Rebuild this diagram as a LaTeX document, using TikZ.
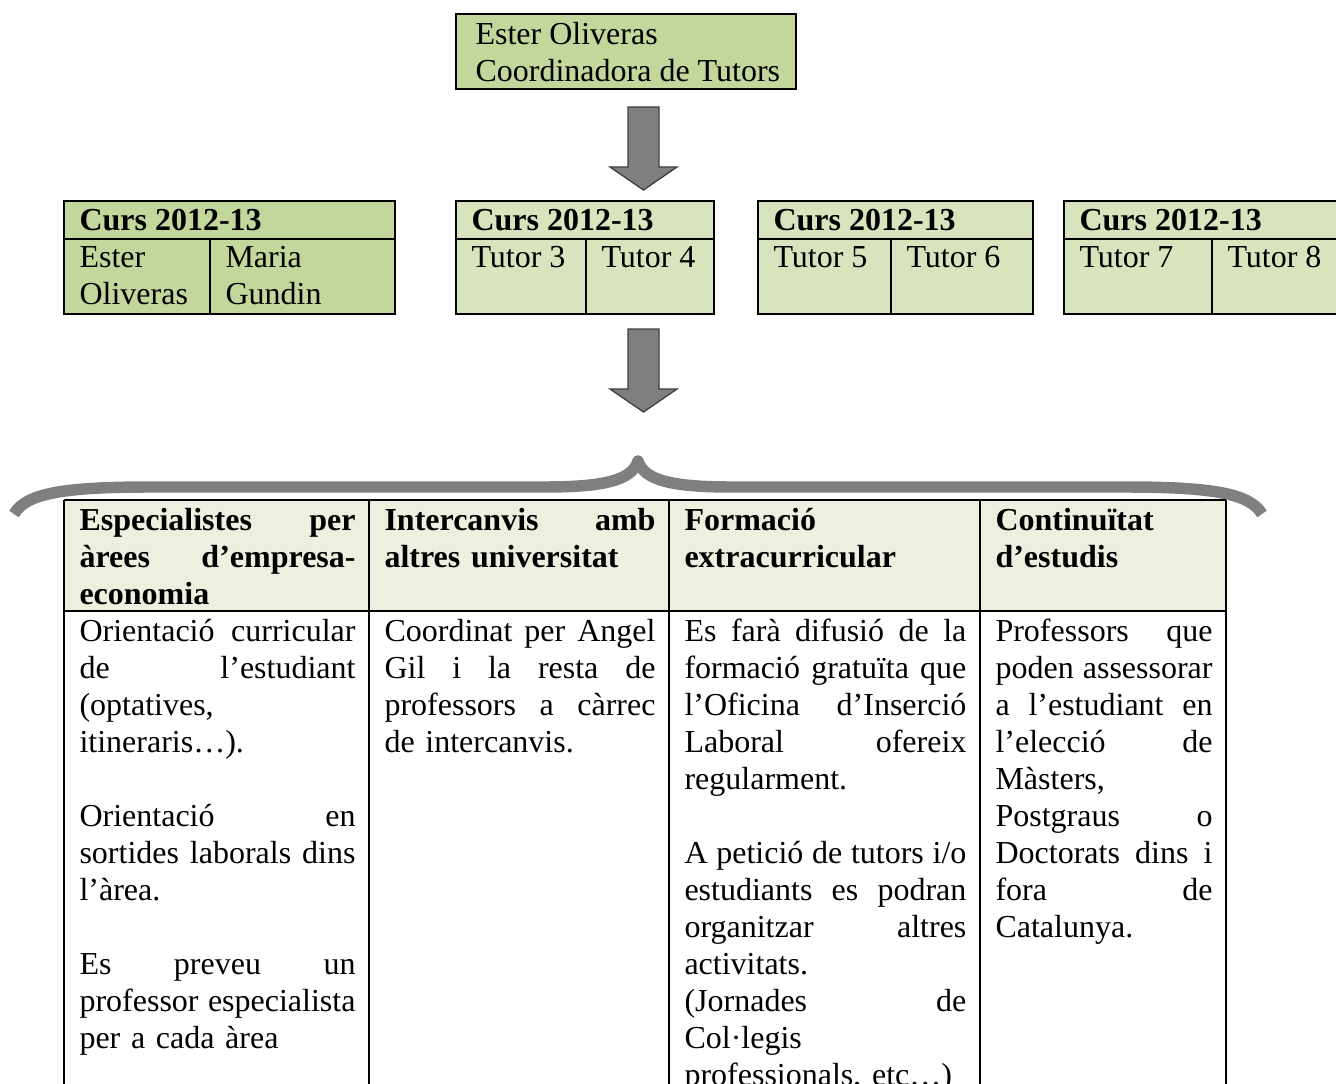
\documentclass[tikz,border=0pt]{standalone}
\usepackage{fontspec}
\setmainfont{Liberation Serif}
\usepackage{tikz}
\definecolor{olivedark}{HTML}{C3D69B}
\definecolor{olivemid}{HTML}{D7E4BD}
\definecolor{olivelight}{HTML}{EBF1DE}
\definecolor{arrowgray}{HTML}{7F7F7F}
\definecolor{arrowedge}{HTML}{3F3F3F}
\newlength{\cellwidth}
\newcommand{\cellfont}{\fontsize{12pt}{13.875pt}\selectfont}
\newcommand{\jline}[1]{\leavevmode{\spaceskip=\fontdimen2\font plus 1fil\relax\hbox to\cellwidth{#1}}}

\begin{document}
\begin{tikzpicture}[x=0.375pt,y=-0.375pt,
    txt/.style={anchor=north west, inner sep=0pt, align=left, font=\cellfont},
    head/.style={txt, font=\cellfont\bfseries},
    cell/.style={text width=#1, execute at begin node={\setlength{\cellwidth}{#1}}},
    frame/.style={line width=0.75pt}]
\useasboundingbox (0,0) rectangle (1336,1084);
\clip (0,0) rectangle (1336,1084);
% Coordinator box
\filldraw[frame, fill=olivedark] (456,14) rectangle (796,89);
\node[txt] (coord) at (475,18) {\strut Ester Oliveras\\Coordinadora de Tutors};
% Block arrows
\foreach \y in {107,329} {
    \filldraw[fill=arrowgray, draw=arrowedge, line width=0.5pt] (628,\y) -- (659,\y) -- (659,\y+60) -- (677,\y+60) -- (643.5,\y+83) -- (610,\y+60) -- (628,\y+60) -- cycle;
}
% Course boxes
\foreach \xl/\xm/\xr/\col/\na/\nb/\n in {64/210/395/olivedark/{Ester\\Oliveras}/{Maria\\Gundin}/1, 456/586/714/olivemid/{Tutor 3}/{Tutor 4}/2, 758/891/1033/olivemid/{Tutor 5}/{Tutor 6}/3, 1064/1212/1350/olivemid/{Tutor 7}/{Tutor 8}/4} {
    \filldraw[frame, fill=\col] (\xl,201) rectangle (\xr,314);
    \draw[frame] (\xl,239) -- (\xr,239) (\xm,239) -- (\xm,314);
    \node[head] (curs\n) at (\xl+15,204) {\strut Curs 2012-13};
    \node[txt] (left\n) at (\xl+15,241) {\strut\na};
    \node[txt] (right\n) at (\xm+15,241) {\strut\nb};
}
% Brace
\draw[arrowgray, line width=4.3pt, line join=round] (14,514) .. controls (26,494) and (60,487) .. (150,487) -- (545,487) .. controls (605,487) and (632,480) .. (638,461) .. controls (644,480) and (671,487) .. (731,487) -- (1125,487) .. controls (1215,487) and (1250,494) .. (1262,514);
% Table
\fill[olivelight] (64,500) rectangle (1226,611);
\draw[frame] (64,500) -- (1226,500) (64,611) -- (1226,611);
\foreach \x in {64,369,669,980,1226}
    \draw[frame] (\x,500) -- (\x,1100);
% Header cells
\node[head, cell=103.5pt] (area) at (79,504) {\strut\jline{Especialistes per}\\\jline{àrees d’empresa-}\\economia};
\node[head, cell=101.6pt] (exchange) at (384,504) {\strut\jline{Intercanvis amb}\\altres universitat};
\node[head, cell=105.7pt] (training) at (684,504) {\strut Formació\\extracurricular};
\node[head, cell=81.4pt] (studies) at (995,504) {\strut Continuïtat\\d’estudis};
% Body cells
\node[txt, cell=103.5pt] (areatext) at (79,615) {\strut\jline{Orientació curricular}\\\jline{de l’estudiant}\\(optatives,\\itineraris…).\\[\baselineskip]\jline{Orientació en}\\\jline{sortides laborals dins}\\l’àrea.\\[\baselineskip]\jline{Es preveu un}\\\jline{professor especialista}\\per a cada àrea};
\node[txt, cell=101.6pt] (exchangetext) at (384,615) {\strut\jline{Coordinat per Angel}\\\jline{Gil i la resta de}\\\jline{professors a càrrec}\\de intercanvis.};
\node[txt, cell=105.7pt] (trainingtext) at (684,615) {\strut\jline{Es farà difusió de la}\\\jline{formació gratuïta que}\\\jline{l’Oficina d’Inserció}\\\jline{Laboral ofereix}\\regularment.\\[\baselineskip]\jline{A petició de tutors i/o}\\\jline{estudiants es podran}\\\jline{organitzar altres}\\activitats.\\\jline{(Jornades de}\\Col·legis\\professionals, etc…)};
\node[txt, cell=81.4pt] (studiestext) at (995,615) {\strut\jline{Professors que}\\\jline{poden assessorar}\\\jline{a l’estudiant en}\\\jline{l’elecció de}\\Màsters,\\\jline{Postgraus o}\\\jline{Doctorats dins i}\\\jline{fora de}\\Catalunya.};
\end{tikzpicture}
\end{document}
